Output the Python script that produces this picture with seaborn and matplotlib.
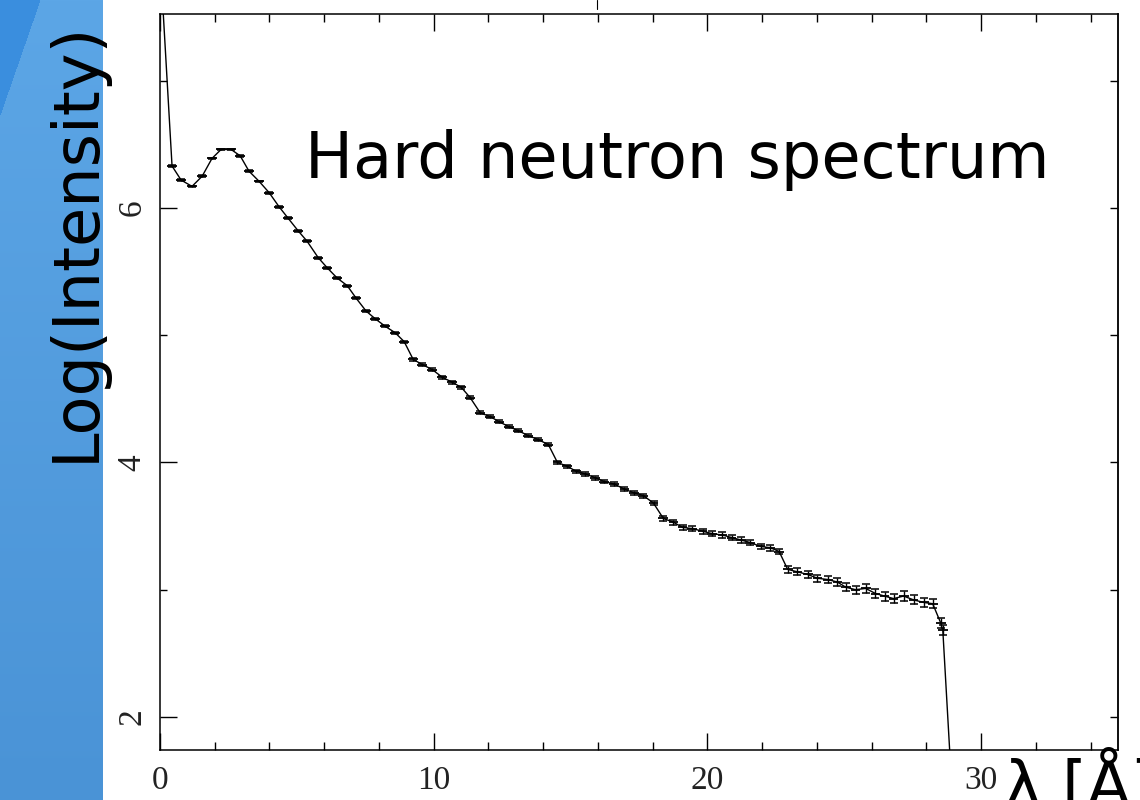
import numpy as np
import pandas as pd
import matplotlib
matplotlib.use("Agg")
import matplotlib.pyplot as plt
import seaborn as sns
from matplotlib.ticker import MultipleLocator, FixedLocator
from matplotlib.lines import Line2D

# wavelength bin centres [Å] and log intensity
wavelength = [0.44, 0.77, 1.17, 1.54, 1.90, 2.23, 2.60, 2.93, 3.25, 3.62,
              3.99, 4.35, 4.68, 5.05, 5.37, 5.78, 6.11, 6.47, 6.84, 7.17,
              7.53, 7.86, 8.23, 8.59, 8.92, 9.25, 9.58, 9.95, 10.31, 10.68,
              11.01, 11.33, 11.70, 12.07, 12.39, 12.76, 13.09, 13.46, 13.82, 14.19,
              14.52, 14.88, 15.21, 15.54, 15.90, 16.23, 16.60, 16.97, 17.33, 17.66,
              18.03, 18.39, 18.76, 19.09, 19.45, 19.82, 20.18, 20.55, 20.88, 21.24,
              21.57, 21.94, 22.30, 22.62, 22.93, 23.29, 23.66, 24.02, 24.39, 24.75,
              25.05, 25.41, 25.78, 26.14, 26.47, 26.80, 27.17, 27.53, 27.90, 28.23,
              28.52, 28.60]
log_intensity = [6.33, 6.22, 6.17, 6.25, 6.39, 6.46, 6.46, 6.41, 6.29, 6.21,
                 6.12, 6.01, 5.92, 5.82, 5.74, 5.61, 5.53, 5.45, 5.39, 5.29,
                 5.19, 5.13, 5.07, 5.02, 4.95, 4.81, 4.77, 4.73, 4.67, 4.63,
                 4.59, 4.51, 4.39, 4.36, 4.32, 4.28, 4.25, 4.21, 4.18, 4.14,
                 4.00, 3.97, 3.93, 3.91, 3.88, 3.85, 3.83, 3.79, 3.76, 3.74,
                 3.68, 3.56, 3.53, 3.49, 3.48, 3.46, 3.44, 3.43, 3.41, 3.39,
                 3.37, 3.34, 3.33, 3.30, 3.16, 3.14, 3.12, 3.09, 3.08, 3.06,
                 3.02, 3.00, 3.01, 2.97, 2.95, 2.93, 2.95, 2.92, 2.90, 2.89,
                 2.74, 2.68]
log_err = [0.006, 0.006, 0.006, 0.006, 0.006, 0.006, 0.006, 0.006, 0.006, 0.006,
           0.006, 0.006, 0.006, 0.006, 0.006, 0.007, 0.007, 0.007, 0.007, 0.007,
           0.007, 0.008, 0.008, 0.008, 0.008, 0.010, 0.010, 0.010, 0.010, 0.010,
           0.010, 0.010, 0.011, 0.011, 0.011, 0.011, 0.012, 0.012, 0.012, 0.012,
           0.014, 0.014, 0.014, 0.014, 0.015, 0.015, 0.015, 0.015, 0.016, 0.016,
           0.016, 0.020, 0.020, 0.020, 0.020, 0.020, 0.021, 0.021, 0.021, 0.022,
           0.022, 0.022, 0.023, 0.023, 0.028, 0.028, 0.028, 0.029, 0.029, 0.030,
           0.030, 0.031, 0.034, 0.034, 0.035, 0.035, 0.036, 0.036, 0.037, 0.037,
           0.040, 0.040]
bin_half = 0.18

# the trace runs off the top of the frame at the start and drops off at the cutoff
lead_x, lead_y = [0.10], [7.60]
tail_x, tail_y = [28.86], [1.70]

x_major = [0, 10, 20, 30]
y_major = [2, 4, 6]

sns.set_theme(style="white")
plt.rcParams["font.family"] = ["DejaVu Sans"]

fig = plt.figure(figsize=(11.4, 8), dpi=100)

# blue slide strip on the left
h, w = 800, 103
yy, xx = np.mgrid[0:h, 0:w]
t = (yy / h)[..., None]
top_c = np.array([92, 166, 230]) / 255
bot_c = np.array([74, 147, 214]) / 255
img = top_c * (1 - t) + bot_c * t
dark = (xx / 40.0 + yy / 115.0) < 1
img[dark] = np.array([58, 142, 222]) / 255
ax_bg = fig.add_axes([0, 0, w / 1140, 1])
ax_bg.imshow(img, aspect="auto")
ax_bg.axis("off")

ax = fig.add_axes([160 / 1140, 1 - 750 / 800, (1118 - 160) / 1140, (750 - 14) / 800])

df = pd.DataFrame({
    "wavelength": lead_x + wavelength + tail_x,
    "log_intensity": lead_y + log_intensity + tail_y,
})
sns.lineplot(data=df, x="wavelength", y="log_intensity", ax=ax, sort=False,
             estimator=None, color="black", lw=1.0)
ax.errorbar(wavelength, log_intensity, xerr=bin_half, fmt="none",
            ecolor="black", elinewidth=1.3, capsize=0)
ax.errorbar(wavelength, log_intensity, yerr=log_err, fmt="none",
            ecolor="black", elinewidth=1.0, capsize=2.6, capthick=1.1)

ax.set_xlim(0, 35)
ax.set_ylim(1.74, 7.525)
ax.set_xlabel("")
ax.set_ylabel("")

ax.xaxis.set_major_locator(FixedLocator(x_major))
ax.xaxis.set_minor_locator(MultipleLocator(2))
ax.yaxis.set_major_locator(FixedLocator(y_major))
ax.yaxis.set_minor_locator(MultipleLocator(1))
ax.tick_params(axis="x", which="major", direction="in", length=12, width=1,
               top=True, bottom=True, pad=11, color="black")
ax.tick_params(axis="x", which="minor", direction="in", length=6, width=1,
               top=True, bottom=True, color="black")
ax.tick_params(axis="y", which="major", direction="in", length=12, width=1,
               left=True, right=False, pad=9, color="black")
ax.tick_params(axis="y", which="minor", direction="in", length=5, width=1,
               left=True, right=False, color="black")
for lab in ax.get_xticklabels():
    lab.set_fontfamily("Liberation Serif")
    lab.set_fontsize(24)
    lab.set_color("#222222")
for lab in ax.get_yticklabels():
    lab.set_fontfamily("Liberation Serif")
    lab.set_fontsize(24)
    lab.set_color("#222222")
    lab.set_rotation(90)
    lab.set_va("center")

# short ticks along the right frame
sec = ax.secondary_yaxis("right")
sec.yaxis.set_major_locator(MultipleLocator(1))
sec.tick_params(axis="y", which="both", direction="in", length=6, width=1,
                labelright=False, color="black")

for sp in ax.spines.values():
    sp.set_color("black")
    sp.set_linewidth(1.1)
sec.spines["right"].set_linewidth(1.1)

fig.text(305 / 1140, 1 - 178 / 800, "Hard neutron spectrum", fontsize=46,
         ha="left", va="baseline", color="black")
fig.text(76 / 1140, 1 - 241 / 800, "Log(Intensity)", fontsize=46,
         rotation=90, ha="center", va="center", color="black")
fig.text(1004 / 1140, -0.008, "λ [Å]", fontsize=46, ha="left",
         va="baseline", color="black")

# stray marks above the frame on the slide
fig.add_artist(Line2D([597 / 1140, 597 / 1140], [1, 1 - 9 / 800], color="black", lw=0.8))

fig.savefig("out.png", dpi=100)
plt.close(fig)
